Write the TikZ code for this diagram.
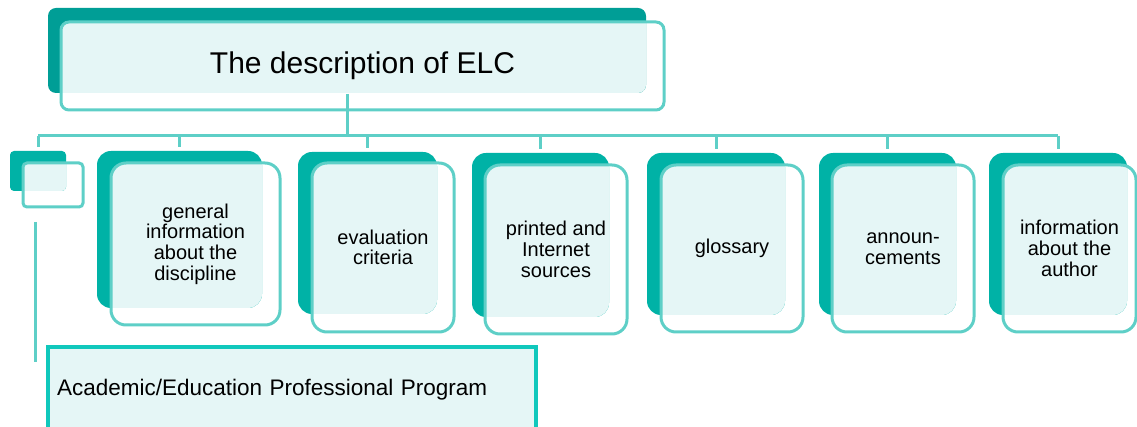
\documentclass[tikz,border=0pt]{standalone}
\usepackage{fontspec}
\setmainfont{Liberation Sans}
\definecolor{topdark}{HTML}{009E96}
\definecolor{boxdark}{HTML}{00B2A6}
\definecolor{lightfill}{HTML}{E5F6F6}
\definecolor{outline}{HTML}{5ECFC7}
\definecolor{acadline}{HTML}{10C8BC}
\tikzset{
  darkbox/.style={fill=boxdark, draw=none, inner sep=0pt, outer sep=0pt, anchor=north west},
  outbox/.style={draw=outline, line width=3pt, fill=none, inner sep=0pt, outer sep=0pt, anchor=north west},
  boxtext/.style={align=center, font=\fontsize{20}{20.7}\selectfont, text=black, inner sep=0pt},
  conn/.style={draw=outline, line width=3pt},
  acadbox/.style={draw=acadline, line width=4.5pt, fill=lightfill, anchor=north west, inner sep=9pt, outer sep=0pt,
    text width=470pt, align=left, font=\fontsize{22.5}{26}\selectfont}
}
% name, dark x1 y1 x2 y2, outline x1 y1 x2 y2 ; followed by {text};
\newcommand\elcbox[9]{%
  \node[darkbox, rounded corners=14pt, minimum width={(#4-#2)*1pt}, minimum height={(#5-#3)*1pt}] (d#1) at (#2,#3) {};
  \begin{scope}
    \clip[rounded corners=14pt] (d#1.north west) rectangle (d#1.south east);
    \fill[lightfill, rounded corners=15pt] (#6,#7) rectangle (#8,#9);
  \end{scope}
  \node[outbox, rounded corners=15pt, minimum width={(#8-#6)*1pt}, minimum height={(#9-#7)*1pt}] (o#1) at (#6,#7) {};
  \node[boxtext] (t#1) at (o#1.center)%
}
\begin{document}
\begin{tikzpicture}[x=1pt,y=-1pt]
\useasboundingbox (0,0) rectangle (1137,427);
\clip (0,0) rectangle (1137,427);

% top box
\node[darkbox, fill=topdark, rounded corners=8pt, minimum width=598pt, minimum height=85pt] (dtop) at (48,8) {};
\begin{scope}
  \clip[rounded corners=8pt] (dtop.north west) rectangle (dtop.south east);
  \fill[lightfill, rounded corners=8pt] (61,22) rectangle (664,110);
\end{scope}
\node[outbox, rounded corners=8pt, minimum width=603pt, minimum height=88pt] (otop) at (61,22) {};
\node[font=\fontsize{30}{36}\selectfont, inner sep=0pt] (ttop) at (otop.center) {The description of ELC};

% small box
\node[darkbox, rounded corners=4pt, minimum width=56pt, minimum height=40pt] (dsmall) at (10,151) {};
\begin{scope}
  \clip[rounded corners=4pt] (dsmall.north west) rectangle (dsmall.south east);
  \fill[lightfill, rounded corners=4pt] (23,163) rectangle (83,207);
\end{scope}
\node[outbox, rounded corners=4pt, minimum width=60pt, minimum height=44pt] (osmall) at (23,163) {};

% boxes
\elcbox{gen}{97}{151}{262}{308}{111}{163}{280}{325}{general\\information\\about the\\discipline};
\elcbox{eval}{298}{152}{437}{314}{312}{163}{454}{332}{evaluation\\criteria};
\elcbox{print}{472}{153}{609}{317}{485}{165}{627}{334}{printed and\\Internet\\sources};
\elcbox{gloss}{647}{153}{785}{315}{661}{165}{803}{332}{glossary};
\elcbox{ann}{819}{153}{956}{315}{832}{165}{974}{332}{announ-\\cements};
\elcbox{auth}{989}{153}{1127}{315}{1003}{165}{1136}{332}{information\\about the\\author};

% academic box
\node[acadbox, minimum width=488pt, minimum height=86pt] (acad) at (48,347) {Academic/Education Professional Program};

% connectors
\coordinate (barL) at (38,136);
\coordinate (barR) at (1058,136);
\draw[conn] ([yshift=-1pt]dtop.south) -- (dtop.south |- barL);
\draw[conn] (barL) -- (barR);
\foreach \n in {small,gen,eval,print,gloss,ann,auth}{
  \draw[conn] (d\n.north |- barL) -- ([yshift=4pt]d\n.north);
}
\coordinate (vtop) at (35,222);
\coordinate (vbot) at (35,362);
\draw[conn] (vtop) -- (vbot);
\end{tikzpicture}
\end{document}
